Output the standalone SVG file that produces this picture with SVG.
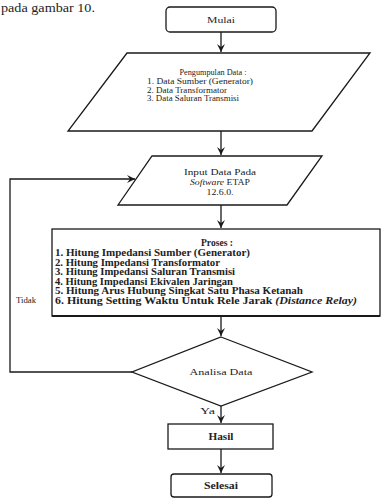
<svg xmlns="http://www.w3.org/2000/svg" width="383" height="499" viewBox="0 0 383 499">
<defs>
<style>
.s{fill:none;stroke:#1a1a1a;stroke-width:1.3}
.b{fill:#fff;stroke:#1a1a1a;stroke-width:1.3}
.t{font-family:"Liberation Serif","Times New Roman",serif;font-size:9px;fill:#222}
.tb{font-family:"Liberation Serif","Times New Roman",serif;font-size:9.5px;font-weight:bold;fill:#222}
.c{text-anchor:middle}
</style>
<marker id="ah" markerWidth="10" markerHeight="10" refX="8" refY="4" orient="auto" markerUnits="userSpaceOnUse">
<path d="M0,0 L8,4 L0,8 L3,4 Z" fill="#1a1a1a"/>
</marker>
</defs>
<rect width="383" height="499" fill="#fff"/>
<text x="1" y="12" font-family="Liberation Serif, serif" font-size="12" fill="#222" textLength="94" lengthAdjust="spacingAndGlyphs">pada gambar 10.</text>

<g id="connectors">
<line class="s" x1="221" y1="32" x2="221" y2="52" marker-end="url(#ah)"/>
<line class="s" x1="221" y1="131" x2="221" y2="155" marker-end="url(#ah)"/>
<line class="s" x1="221" y1="205" x2="221" y2="228" marker-end="url(#ah)"/>
<line class="s" x1="221" y1="317" x2="221" y2="336" marker-end="url(#ah)"/>
<line class="s" x1="221" y1="405" x2="221" y2="423" marker-end="url(#ah)"/>
<line class="s" x1="221" y1="449" x2="221" y2="473" marker-end="url(#ah)"/>
<polyline class="s" points="132,372 10,372 10,179 135,179" marker-end="url(#ah)"/>
<text class="t" x="200" y="414" textLength="15" lengthAdjust="spacingAndGlyphs">Ya</text>
<text class="t" x="16" y="303" textLength="20" lengthAdjust="spacingAndGlyphs">Tidak</text>
</g>

<g id="mulai">
<rect class="b" x="166" y="7" width="110" height="25" rx="4"/>
<text class="t c" x="221" y="23" textLength="28" lengthAdjust="spacingAndGlyphs">Mulai</text>
</g>

<g id="pengumpulan">
<polygon class="b" points="127,53 370,53 312,131 68,131"/>
<text class="t c" x="213" y="75" textLength="67" lengthAdjust="spacingAndGlyphs">Pengumpulan Data :</text>
<text class="t" x="147" y="84" textLength="106" lengthAdjust="spacingAndGlyphs">1. Data Sumber (Generator)</text>
<text class="t" x="147" y="92.5" textLength="80" lengthAdjust="spacingAndGlyphs">2. Data Transformator</text>
<text class="t" x="147" y="101" textLength="92" lengthAdjust="spacingAndGlyphs">3. Data Saluran Transmisi</text>
</g>

<g id="input">
<polygon class="b" points="152,156 322,156 287,205 118,205"/>
<text class="t c" x="220" y="175" textLength="72" lengthAdjust="spacingAndGlyphs">Input Data Pada</text>
<text class="t c" x="220" y="185" textLength="60" lengthAdjust="spacingAndGlyphs"><tspan font-style="italic">Software</tspan>  ETAP</text>
<text class="t c" x="220" y="194.5" textLength="27" lengthAdjust="spacingAndGlyphs">12.6.0.</text>
</g>

<g id="proses">
<rect class="b" x="52" y="229" width="328" height="87"/>
<line x1="52" y1="316" x2="380" y2="316" stroke="#1a1a1a" stroke-width="2.2"/>
<text class="tb c" x="217" y="246" textLength="32" lengthAdjust="spacingAndGlyphs">Proses :</text>
<text class="tb" x="55" y="256" textLength="195" lengthAdjust="spacingAndGlyphs">1. Hitung Impedansi Sumber (Generator)</text>
<text class="tb" x="55" y="265.5" textLength="165" lengthAdjust="spacingAndGlyphs">2. Hitung Impedansi Transformator</text>
<text class="tb" x="55" y="275" textLength="180" lengthAdjust="spacingAndGlyphs">3. Hitung Impedansi Saluran Transmisi</text>
<text class="tb" x="55" y="284.5" textLength="178" lengthAdjust="spacingAndGlyphs">4. Hitung Impedansi Ekivalen Jaringan</text>
<text class="tb" x="55" y="294" textLength="248" lengthAdjust="spacingAndGlyphs">5. Hitung Arus Hubung Singkat Satu Phasa Ketanah</text>
<text class="tb" x="55" y="303.5" textLength="302" lengthAdjust="spacingAndGlyphs">6. Hitung Setting Waktu Untuk Rele Jarak <tspan font-style="italic">(Distance Relay)</tspan></text>
</g>

<g id="analisa">
<polygon class="b" points="221,337 312,372 221,406 132,372"/>
<text class="t c" x="221" y="375" textLength="63" lengthAdjust="spacingAndGlyphs">Analisa Data</text>
</g>

<g id="hasil">
<rect class="b" x="168" y="424" width="105" height="25"/>
<text class="tb c" x="221" y="440" textLength="25" lengthAdjust="spacingAndGlyphs">Hasil</text>
</g>

<g id="selesai">
<rect class="b" x="171" y="474" width="101" height="23" rx="3"/>
<text class="tb c" x="221" y="489" textLength="34" lengthAdjust="spacingAndGlyphs">Selesai</text>
</g>
</svg>
